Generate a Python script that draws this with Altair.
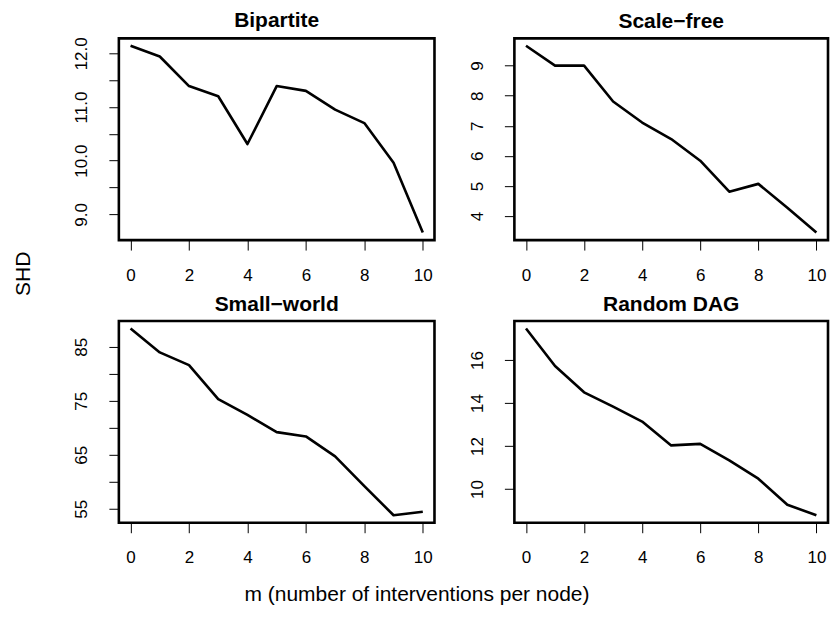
import altair as alt
import pandas as pd

# ---- data ----
m_values = [0, 1, 2, 3, 4, 5, 6, 7, 8, 9, 10]
bipartite = [12.14, 11.94, 11.39, 11.20, 10.31, 11.39, 11.30, 10.95, 10.70, 9.96, 8.66]
scale_free = [9.66, 9.00, 9.00, 7.81, 7.11, 6.56, 5.84, 4.81, 5.07, 4.28, 3.45]
small_world = [88.4, 83.96, 81.6, 75.3, 72.4, 69.2, 68.4, 64.7, 59.2, 53.8, 54.45]
random_dag = [17.47, 15.72, 14.50, 13.83, 13.14, 12.03, 12.10, 11.33, 10.48, 9.27, 8.78]

panel_titles = ["Bipartite", "Scale\u2212free", "Small\u2212world", "Random DAG"]
x_ticks = [0, 2, 4, 6, 8, 10]
bipartite_ticks = [9.0, 9.5, 10.0, 10.5, 11.0, 11.5, 12.0]
bipartite_labels = ["9.0", "", "10.0", "", "11.0", "", "12.0"]
scale_free_ticks = [4, 5, 6, 7, 8, 9]
scale_free_labels = ["4", "5", "6", "7", "8", "9"]
small_world_ticks = [55, 60, 65, 70, 75, 80, 85]
small_world_labels = ["55", "", "65", "", "75", "", "85"]
random_dag_ticks = [10, 12, 14, 16]
random_dag_labels = ["10", "12", "14", "16"]

x_title = "m (number of interventions per node)"
y_title = "SHD"

FONT = "Liberation Sans"
W_LEFT, W_RIGHT, H = 316, 314, 202


def panel(title, values, ticks, labels, width):
    df = pd.DataFrame({"m": m_values, "shd": values})
    lo, hi = min(values), max(values)
    r = hi - lo
    xr = max(m_values) - min(m_values)
    lab_expr = (
        "[" + ", ".join(f"'{l}'" for l in labels) + "][indexof(["
        + ", ".join(str(t) for t in ticks) + "], datum.value)]"
    )
    return (
        alt.Chart(df, title=alt.Title(title))
        .mark_line(color="black", strokeWidth=2.6, strokeJoin="round")
        .encode(
            x=alt.X(
                "m:Q",
                scale=alt.Scale(domain=[min(m_values) - 0.04 * xr, max(m_values) + 0.04 * xr], nice=False, zero=False),
                axis=alt.Axis(values=x_ticks, title=None, labelPadding=17, labelFlush=False),
            ),
            y=alt.Y(
                "shd:Q",
                scale=alt.Scale(domain=[lo - 0.04 * r, hi + 0.04 * r], nice=False, zero=False),
                axis=alt.Axis(
                    values=ticks,
                    title=None,
                    labelExpr=lab_expr,
                    labelAngle=270,
                    labelAlign="center",
                    labelBaseline="bottom",
                    labelPadding=18,
                    labelFlush=False,
                    labelOverlap=False,
                ),
            ),
        )
        .properties(width=width, height=H)
    )


p1 = panel(panel_titles[0], bipartite, bipartite_ticks, bipartite_labels, W_LEFT)
p2 = panel(panel_titles[1], scale_free, scale_free_ticks, scale_free_labels, W_RIGHT)
p3 = panel(panel_titles[2], small_world, small_world_ticks, small_world_labels, W_LEFT)
p4 = panel(panel_titles[3], random_dag, random_dag_ticks, random_dag_labels, W_RIGHT)

grid = alt.concat(
    p1, p2, p3, p4, columns=2, spacing={"row": 81, "column": 80}, bounds="flush"
).properties(
    title=alt.TitleParams(
        y_title, orient="left", anchor="middle", fontWeight="normal", fontSize=21, offset=38, dx=14
    )
)

chart = (
    alt.vconcat(grid)
    .properties(
        title=alt.TitleParams(
            x_title, orient="bottom", anchor="middle", fontWeight="normal", fontSize=21, offset=17, dx=-4
        ),
        padding={"left": 4, "top": 0, "right": 0, "bottom": 0},
    )
    .configure(font=FONT)
    .configure_view(stroke="black", strokeWidth=2.6)
    .configure_axis(
        domain=False,
        grid=False,
        ticks=True,
        tickSize=10,
        tickWidth=1,
        tickColor="black",
        labelFont=FONT,
        labelFontSize=17,
        labelColor="black",
    )
    .configure_title(font=FONT, fontSize=21, fontWeight="bold", color="black", offset=6, anchor="middle")
)

chart.save("out.html", embed_options={"renderer": "svg", "actions": False})
